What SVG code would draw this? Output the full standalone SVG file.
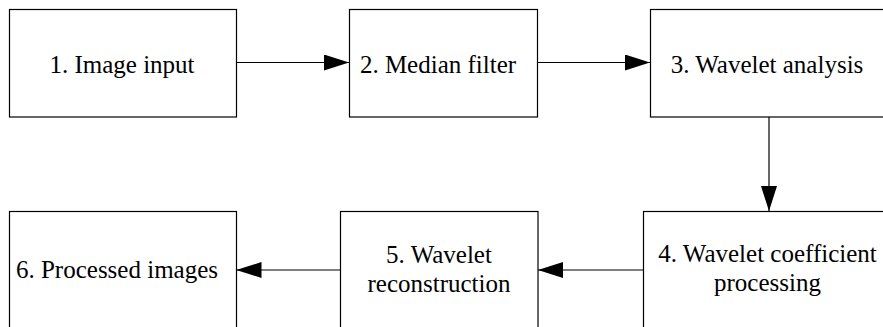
<svg xmlns="http://www.w3.org/2000/svg" width="883" height="327" viewBox="0 0 883 327">
<style>
.box{fill:#fff;stroke:#000;stroke-width:1.2}
.t{font-family:'Liberation Serif','Times New Roman',serif;font-size:25px;fill:#000;text-anchor:middle}
.c{stroke:#000;stroke-width:1.2;fill:none}
</style>
<defs>
<marker id="ah" markerWidth="25" markerHeight="16" refX="25" refY="8" orient="auto" markerUnits="userSpaceOnUse">
<path d="M0,0 L25,8 L0,16 Z" fill="#000"/>
</marker>
</defs>
<rect width="883" height="327" fill="#fff"/>
<g id="connectors">
<line class="c" x1="237" y1="62.5" x2="349" y2="62.5" marker-end="url(#ah)"/>
<line class="c" x1="537" y1="62.5" x2="650" y2="62.5" marker-end="url(#ah)"/>
<line class="c" x1="769" y1="117" x2="769" y2="211" marker-end="url(#ah)"/>
<line class="c" x1="643" y1="270" x2="538" y2="270" marker-end="url(#ah)"/>
<line class="c" x1="340" y1="270" x2="236.5" y2="270" marker-end="url(#ah)"/>
</g>
<g id="n1"><rect class="box" x="9.5" y="9.5" width="227" height="107.5"/><text class="t" x="122" y="73">1. Image input</text></g>
<g id="n2"><rect class="box" x="349.5" y="9.5" width="188" height="107.5"/><text class="t" x="438" y="73">2. Median filter</text></g>
<g id="n3"><rect class="box" x="650.5" y="9.5" width="240" height="107.5"/><text class="t" x="767" y="73">3. Wavelet analysis</text></g>
<g id="n4"><rect class="box" x="643.5" y="211.5" width="250" height="130"/><text class="t" x="767.5" y="262">4. Wavelet coefficient</text><text class="t" x="767.5" y="291">processing</text></g>
<g id="n5"><rect class="box" x="340.5" y="211.5" width="197.5" height="130"/><text class="t" x="439" y="263">5. Wavelet</text><text class="t" x="439" y="292">reconstruction</text></g>
<g id="n6"><rect class="box" x="9.5" y="211.5" width="227" height="130"/><text class="t" x="117" y="278">6. Processed images</text></g>
</svg>
